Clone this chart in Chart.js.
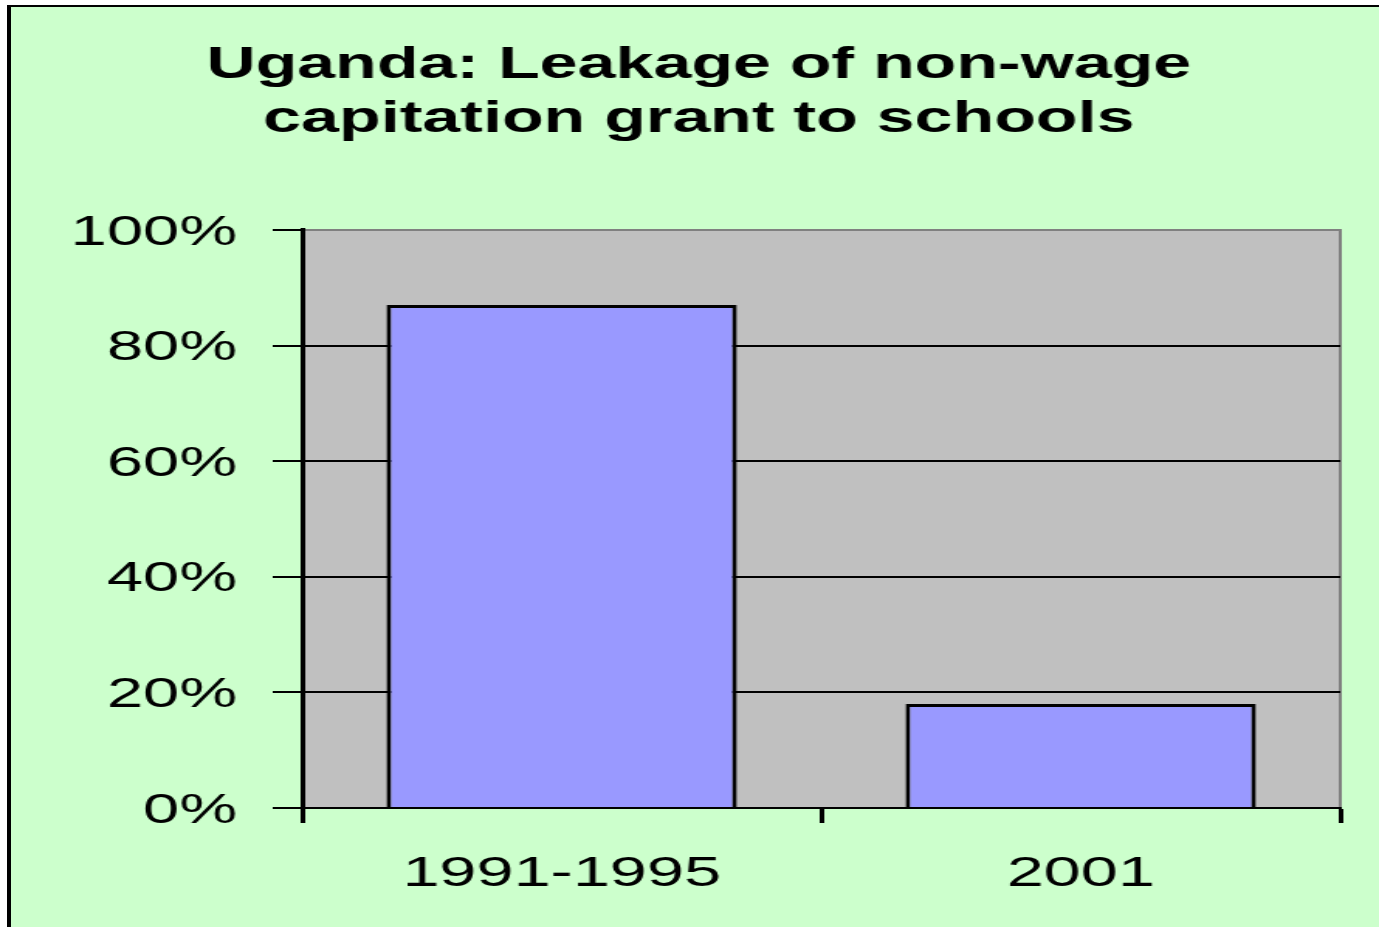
<!DOCTYPE html>
<html>
<head>
<meta charset="utf-8">
<script src="https://cdn.jsdelivr.net/npm/chart.js@4/dist/chart.umd.min.js"></script>
<style>
  html, body { margin: 0; padding: 0; background: #ffffff; width: 1379px; height: 927px; overflow: hidden; }
  #frame { position: absolute; left: 7px; top: 5px; width: 1372px; height: 922px; background: #CCFFCC;
           border-left: 4px solid #000; border-top: 2px solid #000; box-sizing: border-box; }
  #c { position: absolute; left: 0; top: 0; width: 1379px; height: 927px; }
</style>
</head>
<body>
<div id="frame"></div>
<canvas id="c" width="890" height="927" style="width:1379px;height:927px"></canvas>
<script>
const titleLines = ['Uganda: Leakage of non-wage', 'capitation grant to schools'];
const categories = ['1991-1995', '2001'];
const leakagePct = [87, 18];
const yTickValues = [0, 20, 40, 60, 80, 100];

const plotBg = {
  id: 'plotBg',
  beforeDraw(chart) {
    const { ctx, chartArea: a } = chart;
    ctx.save();
    ctx.fillStyle = '#C0C0C0';
    ctx.fillRect(a.left, a.top, a.right - a.left, a.bottom - a.top);
    ctx.strokeStyle = '#808080';
    ctx.lineWidth = 2;
    ctx.beginPath();
    ctx.moveTo(a.right, a.top - 1);
    ctx.lineTo(a.right, a.bottom);
    ctx.stroke();
    ctx.restore();
  }
};

const canvas = document.getElementById('c');
const chart = new Chart(canvas, {
  type: 'bar',
  data: {
    labels: categories,
    datasets: [{
      data: leakagePct,
      backgroundColor: '#9999FF',
      borderColor: '#000000',
      borderWidth: 3,
      barPercentage: 0.675,
      categoryPercentage: 1.0
    }]
  },
  options: {
    responsive: false,
    devicePixelRatio: 1,
    animation: false,
    layout: { padding: { left: 37, right: 25, top: 0, bottom: 0 } },
    plugins: {
      legend: { display: false },
      tooltip: { enabled: false },
      title: {
        display: true,
        text: titleLines,
        color: '#000',
        font: { family: '"Liberation Sans", Arial, sans-serif', size: 44, weight: 'bold', lineHeight: 1.227 },
        padding: { top: 39, bottom: 83 }
      }
    },
    scales: {
      x: {
        offset: true,
        grid: { offset: true, drawOnChartArea: false, drawTicks: true, tickLength: 15, tickColor: '#000', tickWidth: 3 },
        border: { display: true, color: '#000', width: 2 },
        ticks: { color: '#000', padding: 25, maxRotation: 0,
                 font: { family: '"Liberation Sans", Arial, sans-serif', size: 43 } },
        afterFit(s) { s.height = 119; }
      },
      y: {
        min: 0, max: 100,
        afterBuildTicks(s) { s.ticks = yTickValues.map(v => ({ value: v })); },
        grid: {
          color: c => (c.tick && c.tick.value === 100) ? '#808080' : '#000',
          lineWidth: 2,
          drawTicks: true, tickLength: 19, tickColor: '#000', tickWidth: 2
        },
        border: { display: true, color: '#000', width: 3 },
        ticks: { color: '#000', padding: 23, labelOffset: 3, callback: v => v + '%',
                 font: { family: '"Liberation Sans", Arial, sans-serif', size: 42 } },
        afterFit(s) { s.width = 158; }
      }
    }
  },
  plugins: [plotBg]
});
canvas.style.width = '1379px';
canvas.style.height = '927px';
</script>
</body>
</html>
